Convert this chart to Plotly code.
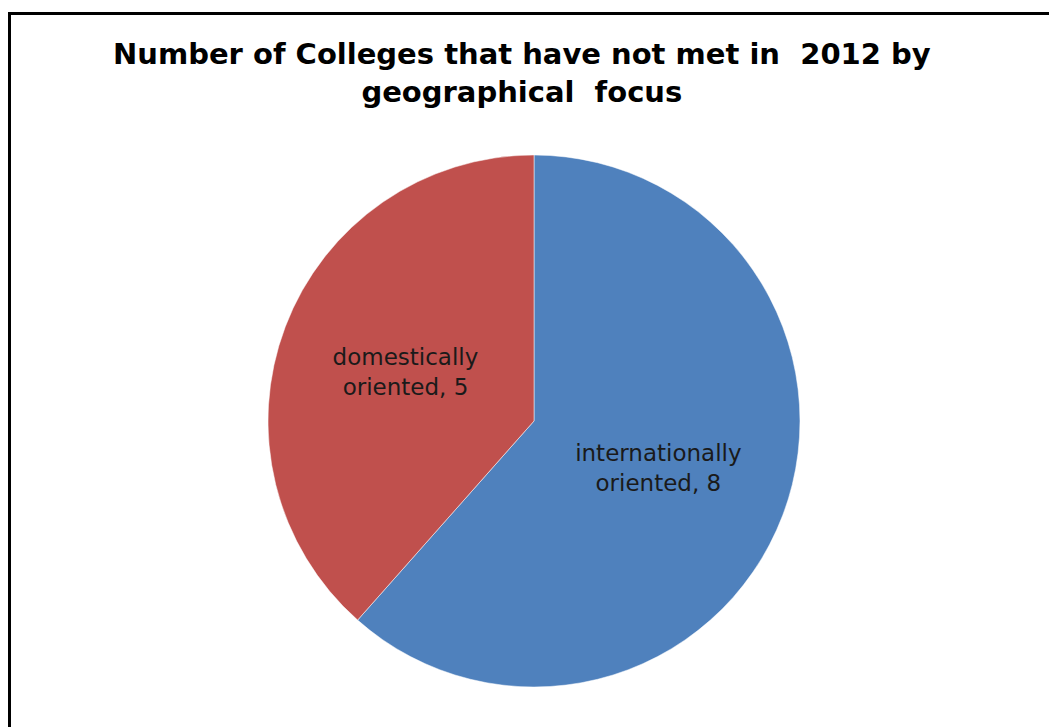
import plotly.graph_objects as go

categories = ["internationally oriented", "domestically oriented"]
values = [8, 5]
colors = ["#4F81BD", "#C0504D"]
title_lines = ["Number of Colleges that have not met in  2012 by", "geographical  focus"]

# page body adds an 8px offset; figure sized to fit the window
OFF = 8
W, H = 1057 - OFF, 727 - OFF
texts = [c.replace(" ", "<br>", 1) + ", " + str(v) for c, v in zip(categories, values)]

cx, cy, r = 534 - OFF, 421 - OFF, 266

fig = go.Figure(go.Pie(
    labels=categories,
    values=values,
    text=texts,
    texttemplate="%{text}",
    textposition="inside",
    insidetextorientation="horizontal",
    textfont=dict(family="DejaVu Sans", size=23, color="#1a1a1a"),
    marker=dict(colors=colors, line=dict(color="white", width=0.5)),
    sort=False,
    direction="clockwise",
    rotation=0,
    showlegend=False,
    hoverinfo="label+value",
    domain=dict(x=[(cx - r) / W, (cx + r) / W], y=[(H - cy - r) / H, (H - cy + r) / H]),
))

fig.update_layout(
    width=W, height=H,
    margin=dict(l=0, r=0, t=0, b=0),
    paper_bgcolor="white",
    plot_bgcolor="white",
    annotations=[dict(text="<b>" + "<br>".join(title_lines) + "</b>", xref="paper", yref="paper",
                      x=(522 - OFF) / W, xanchor="center", y=1 - (35 - OFF) / H, yanchor="top",
                      showarrow=False, align="center",
                      font=dict(family="DejaVu Sans", size=29, color="black"))],
    shapes=[dict(type="path", xref="paper", yref="paper",
                 path=f"M {(9.5 - OFF) / W} 0 L {(9.5 - OFF) / W} {1 - (13.5 - OFF) / H} L 1.02 {1 - (13.5 - OFF) / H}",
                 line=dict(color="black", width=3))],
)

fig.write_html("out.html")
